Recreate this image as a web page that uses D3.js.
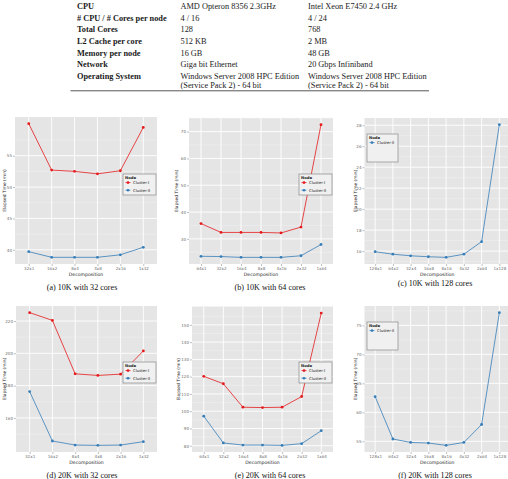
<!DOCTYPE html>
<html>
<head>
<meta charset="utf-8">
<script src="https://cdn.jsdelivr.net/npm/d3@7"></script>
<style>
  body { margin: 0; background: #fff; }
  svg { display: block; }
</style>
</head>
<body>
<div id="fig"></div>
<script>
// table data
const specLabels = ["CPU", "# CPU / # Cores per node", "Total Cores", "L2 Cache per core",
    "Memory per node", "Network", "Operating System"];
const clusterOne = ["AMD Opteron 8356 2.3GHz", "4 / 16", "128", "512 KB", "16 GB",
    "Giga bit Ethernet", "Windows Server 2008 HPC Edition\n(Service Pack 2) - 64 bit"];
const clusterTwo = ["Intel Xeon E7450 2.4 GHz", "4 / 24", "768", "2 MB", "48 GB",
    "20 Gbps Infiniband", "Windows Server 2008 HPC Edition\n(Service Pack 2) - 64 bit"];

// decompositions
const decomp32 = ["32x1", "16x2", "8x4", "4x8", "2x16", "1x32"];
const decomp64 = ["64x1", "32x2", "16x4", "8x8", "4x16", "2x32", "1x64"];
const decomp128 = ["128x1", "64x2", "32x4", "16x8", "8x16", "4x32", "2x64", "1x128"];

// elapsed times (min)
const c1_10k_32 = [60.1, 52.7, 52.5, 52.1, 52.6, 59.5];
const c2_10k_32 = [39.7, 38.8, 38.8, 38.8, 39.2, 40.4];
const c1_10k_64 = [35.7, 32.4, 32.4, 32.4, 32.2, 34.4, 72.6];
const c2_10k_64 = [23.5, 23.4, 23.1, 23.1, 23.1, 23.7, 27.9];
const c2_10k_128 = [15.94, 15.7, 15.55, 15.46, 15.4, 15.7, 16.9, 28.06];
const c1_20k_32 = [225.2, 220.4, 187.3, 186.3, 187.1, 201.5];
const c2_20k_32 = [176.3, 145.7, 143.2, 143.0, 143.2, 145.3];
const c1_20k_64 = [120.2, 115.9, 102.3, 102.1, 102.3, 108.5, 156.8];
const c2_20k_64 = [97.1, 81.6, 80.4, 80.4, 80.2, 81.2, 88.7];
const c2_20k_128 = [62.7, 55.4, 54.8, 54.7, 54.3, 54.8, 57.9, 77.2];

// y ticks
const ticks10k32 = [40, 45, 50, 55];
const ticks10k64 = [30, 40, 50, 60, 70];
const ticks10k128 = [16, 18, 20, 22, 24, 26, 28];
const ticks20k32 = [160, 180, 200, 220];
const ticks20k64 = [80, 90, 100, 110, 120, 130, 140, 150];
const ticks20k128 = [55, 60, 65, 70, 75];

const captions = ["(a) 10K with 32 cores", "(b) 10K with 64 cores", "(c) 10K with 128 cores",
    "(d) 20K with 32 cores", "(e) 20K with 64 cores", "(f) 20K with 128 cores"];

const red = "#E41A1C", blue = "#377EB8";

const svg = d3.select("#fig").append("svg")
    .attr("width", 508).attr("height", 479);

// ---- table ----
const table = svg.append("g")
    .attr("font-family", "Liberation Serif, Times New Roman, serif")
    .attr("font-size", 8.3).attr("fill", "#1a1a1a");
const rowY = [8.8, 20.6, 32.2, 44, 55.6, 67.2, 78.8];
specLabels.forEach((lab, i) => {
    table.append("text").attr("x", 77).attr("y", rowY[i])
        .attr("font-weight", "bold").text(lab);
    [[clusterOne, 180.5], [clusterTwo, 308]].forEach(([col, x]) => {
        col[i].split("\n").forEach((ln, j) => {
            table.append("text").attr("x", x).attr("y", rowY[i] + j * 9).text(ln);
        });
    });
});
table.append("line").attr("x1", 70.5).attr("x2", 429).attr("y1", 90.8).attr("y2", 90.8)
    .attr("stroke", "#444").attr("stroke-width", 0.9);

// ---- charts ----
function drawChart(cfg) {
    const g = svg.append("g");
    const all = cfg.series.flatMap(s => s.values);
    const [lo, hi] = d3.extent(all);
    const pad = (hi - lo) * 0.05;

    const x = d3.scalePoint().domain(cfg.cats)
        .range([cfg.left, cfg.right]).padding(0.6);
    const y = d3.scaleLinear().domain([lo - pad, hi + pad])
        .range([cfg.bottom, cfg.top]);

    // panel
    g.append("rect").attr("x", cfg.left).attr("y", cfg.top)
        .attr("width", cfg.right - cfg.left).attr("height", cfg.bottom - cfg.top)
        .attr("fill", "#E5E5E5");

    // minor grid
    const step = cfg.ticks[1] - cfg.ticks[0];
    const minor = [];
    for (let v = cfg.ticks[0] - step / 2; v <= hi + pad; v += step) {
        if (v >= lo - pad) minor.push(v);
    }
    g.selectAll(".minor").data(minor).enter().append("line")
        .attr("x1", cfg.left).attr("x2", cfg.right)
        .attr("y1", d => y(d)).attr("y2", d => y(d))
        .attr("stroke", "#F2F2F2").attr("stroke-width", 0.5);

    // major grid
    g.selectAll(".hmaj").data(cfg.ticks).enter().append("line")
        .attr("x1", cfg.left).attr("x2", cfg.right)
        .attr("y1", d => y(d)).attr("y2", d => y(d))
        .attr("stroke", "#fff").attr("stroke-width", 0.9);
    g.selectAll(".vmaj").data(cfg.cats).enter().append("line")
        .attr("x1", d => x(d)).attr("x2", d => x(d))
        .attr("y1", cfg.top).attr("y2", cfg.bottom)
        .attr("stroke", "#fff").attr("stroke-width", 0.9);

    // axes
    const yAxis = g.append("g").attr("transform", `translate(${cfg.left},0)`)
        .call(d3.axisLeft(y).tickValues(cfg.ticks).tickSize(2).tickPadding(1));
    const xAxis = g.append("g").attr("transform", `translate(0,${cfg.bottom})`)
        .call(d3.axisBottom(x).tickSize(2).tickPadding(1));
    [xAxis, yAxis].forEach(a => {
        a.select(".domain").remove();
        a.selectAll(".tick line").attr("stroke", "#7F7F7F").attr("stroke-width", 0.5);
        a.selectAll(".tick text").attr("fill", "#6F6F6F")
            .attr("font-size", 4.1).attr("font-family", "DejaVu Sans, sans-serif");
    });

    // axis titles
    const cx = (cfg.left + cfg.right) / 2, cy = (cfg.top + cfg.bottom) / 2;
    g.append("text").attr("x", cx).attr("y", cfg.bottom + 11.5)
        .attr("text-anchor", "middle").attr("font-size", 4.6)
        .attr("font-family", "DejaVu Sans, sans-serif").attr("fill", "#222")
        .text("Decomposition");
    g.append("text").attr("transform", `translate(${cfg.ytitleX},${cy}) rotate(-90)`)
        .attr("text-anchor", "middle").attr("font-size", 4.4)
        .attr("font-family", "DejaVu Sans, sans-serif").attr("fill", "#222")
        .text("Elapsed Time (min)");

    // lines and points
    const line = d3.line().x((d, i) => x(cfg.cats[i])).y(d => y(d));
    cfg.series.forEach(s => {
        g.append("path").datum(s.values).attr("d", line)
            .attr("fill", "none").attr("stroke", s.color).attr("stroke-width", 0.8);
        g.selectAll(null).data(s.values).enter().append("circle")
            .attr("cx", (d, i) => x(cfg.cats[i])).attr("cy", d => y(d))
            .attr("r", 1.4).attr("fill", s.color);
    });

    // legend
    const L = cfg.legend;
    const lg = g.append("g").attr("font-family", "DejaVu Sans, sans-serif");
    lg.append("rect").attr("x", L.x).attr("y", L.y).attr("width", L.w).attr("height", L.h)
        .attr("fill", "#F0F0F0").attr("stroke", "#8A8A8A").attr("stroke-width", 0.7);
    lg.append("text").attr("x", L.x + 2).attr("y", L.y + 4.6)
        .attr("font-size", 3.8).attr("font-weight", "bold").attr("fill", "#222").text("Node");
    cfg.series.forEach((s, i) => {
        const ky = L.y + 8.6 + i * 7.6;
        lg.append("rect").attr("x", L.x + 2).attr("y", ky - 3).attr("width", 6).attr("height", 6)
            .attr("fill", "#F2F2F2");
        lg.append("line").attr("x1", L.x + 2.5).attr("x2", L.x + 7.5)
            .attr("y1", ky).attr("y2", ky).attr("stroke", s.color).attr("stroke-width", 0.8);
        lg.append("circle").attr("cx", L.x + 5).attr("cy", ky).attr("r", 1.3).attr("fill", s.color);
        lg.append("text").attr("x", L.x + 10).attr("y", ky + 1.4)
            .attr("font-size", 3.9).attr("fill", "#222").text(s.name);
    });

    // caption
    svg.append("text").attr("x", cfg.capX).attr("y", cfg.capY)
        .attr("text-anchor", "middle").attr("font-size", 8.1)
        .attr("font-family", "Liberation Serif, Times New Roman, serif").attr("fill", "#111")
        .text(cfg.caption);
}

const legend2 = (x, y) => ({x: x, y: y, w: 33, h: 21});
const legend1 = (x, y) => ({x: x, y: y, w: 31, h: 28});

drawChart({cats: decomp32, ticks: ticks10k32, left: 15, right: 157, top: 117, bottom: 264, ytitleX: 6,
    series: [{name: "Cluster-I", color: red, values: c1_10k_32}, {name: "Cluster-II", color: blue, values: c2_10k_32}],
    legend: legend2(123, 174), caption: captions[0], capX: 82, capY: 289.5});
drawChart({cats: decomp64, ticks: ticks10k64, left: 189, right: 333, top: 118, bottom: 264, ytitleX: 178,
    series: [{name: "Cluster-I", color: red, values: c1_10k_64}, {name: "Cluster-II", color: blue, values: c2_10k_64}],
    legend: legend2(299, 174), caption: captions[1], capX: 270, capY: 289.5});
drawChart({cats: decomp128, ticks: ticks10k128, left: 364.5, right: 510, top: 118, bottom: 264, ytitleX: 356.5,
    series: [{name: "Cluster-II", color: blue, values: c2_10k_128}],
    legend: legend1(367, 134), caption: captions[2], capX: 435, capY: 286});
drawChart({cats: decomp32, ticks: ticks20k32, left: 16, right: 157, top: 306, bottom: 452, ytitleX: 6,
    series: [{name: "Cluster-I", color: red, values: c1_20k_32}, {name: "Cluster-II", color: blue, values: c2_20k_32}],
    legend: legend2(123, 362), caption: captions[3], capX: 82, capY: 477.5});
drawChart({cats: decomp64, ticks: ticks20k64, left: 192, right: 333, top: 306.5, bottom: 452, ytitleX: 180,
    series: [{name: "Cluster-I", color: red, values: c1_20k_64}, {name: "Cluster-II", color: blue, values: c2_20k_64}],
    legend: legend2(299, 362), caption: captions[4], capX: 270, capY: 477.5});
drawChart({cats: decomp128, ticks: ticks20k128, left: 364.5, right: 510, top: 306, bottom: 452, ytitleX: 356.5,
    series: [{name: "Cluster-II", color: blue, values: c2_20k_128}],
    legend: legend1(367, 322), caption: captions[5], capX: 435, capY: 477.5});
</script>
</body>
</html>
